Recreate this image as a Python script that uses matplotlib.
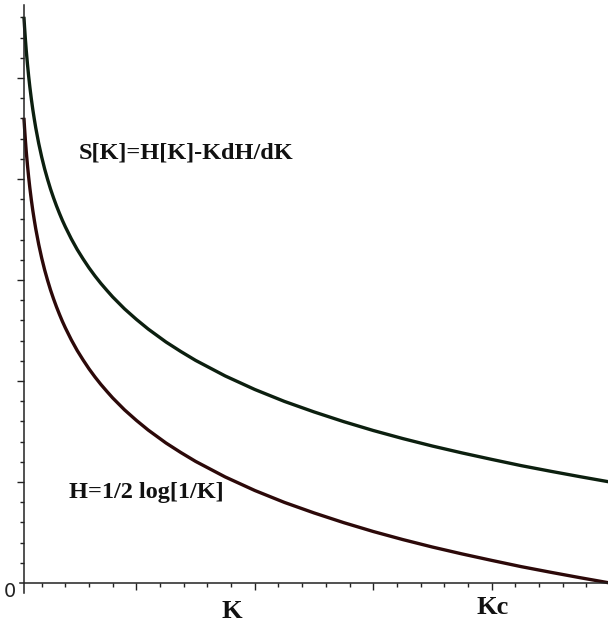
import matplotlib
matplotlib.use("Agg")
import matplotlib.pyplot as plt
from matplotlib.ticker import FixedLocator

# values
K = [0.01, 0.011, 0.0125, 0.014, 0.016, 0.018, 0.02, 0.0225, 0.025, 0.0275,
     0.03, 0.035, 0.04, 0.045, 0.05, 0.055, 0.06, 0.065, 0.07, 0.075, 0.08,
     0.09, 0.1, 0.11, 0.12, 0.13, 0.14, 0.15, 0.16, 0.18, 0.2, 0.22, 0.25,
     0.275, 0.3, 0.35, 0.4, 0.45, 0.5, 0.55, 0.6, 0.65, 0.7, 0.75, 0.8,
     0.85, 0.9, 0.95, 1.0]
H = [2.303, 2.255, 2.191, 2.134, 2.068, 2.009, 1.956, 1.897, 1.844, 1.797,
     1.753, 1.676, 1.609, 1.550, 1.498, 1.450, 1.407, 1.367, 1.330, 1.295, 1.263,
     1.204, 1.151, 1.104, 1.060, 1.020, 0.983, 0.949, 0.916, 0.857, 0.805, 0.757, 0.693,
     0.646, 0.602, 0.525, 0.458, 0.399, 0.347, 0.299, 0.255, 0.215, 0.178, 0.144, 0.112,
     0.081, 0.053, 0.026, 0.000]
S = [2.803, 2.755, 2.691, 2.634, 2.568, 2.509, 2.456, 2.397, 2.344, 2.297,
     2.253, 2.176, 2.109, 2.050, 1.998, 1.950, 1.907, 1.867, 1.830, 1.795, 1.763,
     1.704, 1.651, 1.604, 1.560, 1.520, 1.483, 1.449, 1.416, 1.357, 1.305, 1.257, 1.193,
     1.146, 1.102, 1.025, 0.958, 0.899, 0.847, 0.799, 0.755, 0.715, 0.678, 0.644, 0.612,
     0.581, 0.553, 0.526, 0.500]

S_LABEL = "S[K]=H[K]-KdH/dK"
H_LABEL = "H=1/2 log[1/K]"

S_COLOR = "#0c1f0f"
H_COLOR = "#2c0909"
AXIS = "#222222"

fig = plt.figure(figsize=(6.08, 6.30), dpi=100)
ax = fig.add_axes([0, 0, 1, 1])
ax.set_xlim(-18 / 592, 590 / 592)
ax.set_ylim(-47 / 202, 583 / 202)

ax.plot(K, S, color=S_COLOR, lw=2.4, solid_capstyle="butt", solid_joinstyle="round")
ax.plot(K, H, color=H_COLOR, lw=2.4, solid_capstyle="butt", solid_joinstyle="round")

# axes crossing at K=0.01, H=0
for s in ("top", "right"):
    ax.spines[s].set_visible(False)
ax.spines["left"].set_position(("data", 0.01))
ax.spines["bottom"].set_position(("data", 0.0))
ax.spines["left"].set_bounds(-0.05, 2.86)
ax.spines["bottom"].set_bounds(0.0035, 1.0)
for s in ("left", "bottom"):
    ax.spines[s].set_color(AXIS)
    ax.spines[s].set_linewidth(1.1)

x_major = [0.2, 0.4, 0.6, 0.8, 1.0]
x_minor = [0.04 * i for i in range(1, 25) if i % 5]
y_major = [0.5, 1.0, 1.5, 2.0, 2.5]
y_minor = [0.1 * i for i in range(1, 29) if i % 5]
ax.xaxis.set_major_locator(FixedLocator(x_major))
ax.xaxis.set_minor_locator(FixedLocator(x_minor))
ax.yaxis.set_major_locator(FixedLocator(y_major))
ax.yaxis.set_minor_locator(FixedLocator(y_minor))
ax.tick_params(which="both", direction="out", color=AXIS, width=1,
               labelbottom=False, labelleft=False)
ax.tick_params(which="major", length=5)
ax.tick_params(which="minor", length=3)

serif = dict(family="Liberation Serif", fontweight="bold", color="#111111",
             ha="center", va="center")
ax.text(0.284, 2.129, S_LABEL, fontsize=17.5, **serif)
ax.text(0.216, 0.446, H_LABEL, fontsize=17.5, **serif)
ax.text(0.362, -0.14, "K", fontsize=19, **serif)
ax.text(0.802, -0.12, "Kc", fontsize=19, **serif)
ax.text(-0.0135, -0.04, "0", fontsize=14, color=AXIS, ha="center", va="center",
        family="Liberation Sans Narrow")

fig.savefig("out.png", dpi=100, facecolor="white")
